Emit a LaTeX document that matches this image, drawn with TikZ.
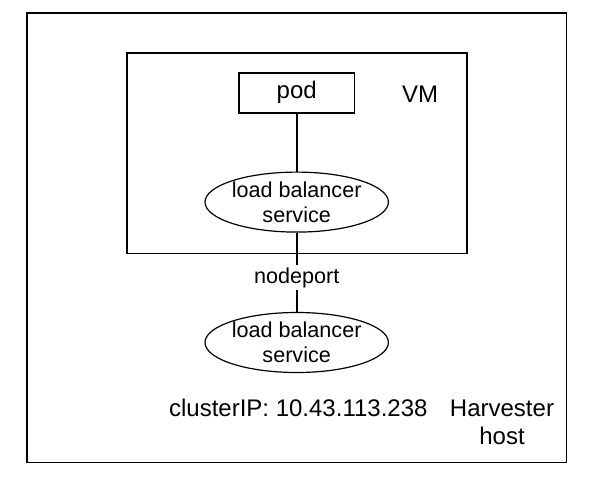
\documentclass[tikz,border=0pt]{standalone}
\usepackage{fontspec}
\setmainfont{Liberation Sans}
\usetikzlibrary{positioning, shapes.geometric}

\begin{document}
\begin{tikzpicture}[x=0.5pt, y=-0.5pt, on grid,
    frame/.style={draw, line width=0.8pt, minimum width=#1},
    lb/.style={draw, ellipse, line width=0.6pt, minimum width=85.7pt, minimum height=30pt,
        inner sep=0pt, align=center, font=\fontsize{10.8}{12.4}\selectfont},
    link/.style={line width=0.8pt}]
    \useasboundingbox (0,0) rectangle (590,498);

    \node[frame=269.8pt, minimum height=224.7pt] (host) at (296.8,237.7) {};
    \node[frame=170pt, minimum height=100.3pt] (vm) at (296.7,153) {};
    \node[frame=57.7pt, minimum height=20pt, font=\fontsize{12}{14}\selectfont] (pod) at (296.7,92.7) {pod};
    \node[font=\fontsize{12}{14}\selectfont] (vmlabel) at (420,94) {VM};

    \node[lb] (lb_vm) [below=54.7pt of pod] {load balancer\\service};
    \node[lb] (lb_host) [below=70.2pt of lb_vm] {load balancer\\service};

    \node[font=\fontsize{12}{14}\selectfont] (clusterip) at (298.3,408) {clusterIP: 10.43.113.238};
    \node[align=center, font=\fontsize{12}{14}\selectfont] (hostlabel) at (502,422) {Harvester\\host};

    \draw[link] (pod) -- (lb_vm);
    \draw[link] (lb_vm) -- node[fill=white, inner sep=1.2pt, pos=0.57, font=\fontsize{10.8}{12.4}\selectfont] (nodeport) {nodeport} (lb_host);
\end{tikzpicture}
\end{document}
